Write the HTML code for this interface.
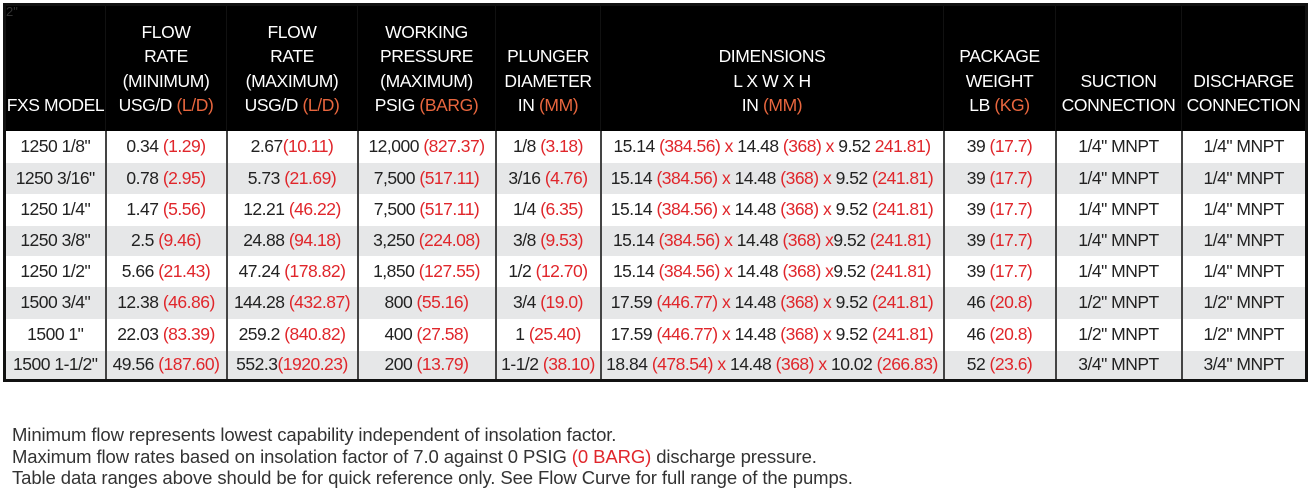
<!DOCTYPE html>
<html><head><meta charset="utf-8"><style>
body{margin:0;width:1310px;height:496px;background:#fff;font-family:"Liberation Sans",sans-serif;overflow:hidden;position:relative}
table{position:absolute;left:3px;top:3px;border-collapse:collapse;table-layout:fixed;border:3px solid #111;}
th{background:#000;color:#fff;font-weight:normal;font-size:17.5px;line-height:24.5px;vertical-align:bottom;padding:0 0 13px 0;letter-spacing:-0.4px;border-left:1px solid #111}
td{font-size:17.5px;letter-spacing:-0.5px;color:#222;text-align:center;padding:0;border-left:2px solid #444;white-space:nowrap}
tr.g td{background:#e6e7e8}
.r{color:#e0262b}.o{color:#e8663e}
.tag{position:absolute;left:6px;top:4px;color:#333;font-size:13px;z-index:2}
.foot{position:absolute;left:12px;top:424px;font-size:18.5px;line-height:21.5px;color:#333;letter-spacing:-0.1px}
</style></head><body>
<div class="tag">2"</div>
<table>
<colgroup><col style="width:101px"><col style="width:121px"><col style="width:131px"><col style="width:138px"><col style="width:105px"><col style="width:343px"><col style="width:112px"><col style="width:126px"><col style="width:125px"></colgroup>
<tr style="height:126px"><th>FXS MODEL</th><th>FLOW<br>RATE<br>(MINIMUM)<br>USG/D <span class="o">(L/D)</span></th><th>FLOW<br>RATE<br>(MAXIMUM)<br>USG/D <span class="o">(L/D)</span></th><th>WORKING<br>PRESSURE<br>(MAXIMUM)<br>PSIG <span class="o">(BARG)</span></th><th>PLUNGER<br>DIAMETER<br>IN <span class="o">(MM)</span></th><th>DIMENSIONS<br>L X W X H<br>IN <span class="o">(MM)</span></th><th>PACKAGE<br>WEIGHT<br>LB <span class="o">(KG)</span></th><th>SUCTION<br>CONNECTION</th><th>DISCHARGE<br>CONNECTION</th></tr>
<tr style="height:32px"><td>1250 1/8"</td><td>0.34 <span class="r">(1.29)</span></td><td>2.67<span class="r">(10.11)</span></td><td>12,000 <span class="r">(827.37)</span></td><td>1/8 <span class="r">(3.18)</span></td><td>15.14 <span class="r">(384.56) x</span> 14.48 <span class="r">(368) x</span> 9.52 <span class="r">241.81)</span></td><td>39 <span class="r">(17.7)</span></td><td>1/4" MNPT</td><td>1/4" MNPT</td></tr>
<tr class="g" style="height:31px"><td>1250 3/16"</td><td>0.78 <span class="r">(2.95)</span></td><td>5.73 <span class="r">(21.69)</span></td><td>7,500 <span class="r">(517.11)</span></td><td>3/16 <span class="r">(4.76)</span></td><td>15.14 <span class="r">(384.56) x</span> 14.48 <span class="r">(368) x</span> 9.52 <span class="r">(241.81)</span></td><td>39 <span class="r">(17.7)</span></td><td>1/4" MNPT</td><td>1/4" MNPT</td></tr>
<tr style="height:32px"><td>1250 1/4"</td><td>1.47 <span class="r">(5.56)</span></td><td>12.21 <span class="r">(46.22)</span></td><td>7,500 <span class="r">(517.11)</span></td><td>1/4 <span class="r">(6.35)</span></td><td>15.14 <span class="r">(384.56) x</span> 14.48 <span class="r">(368) x</span> 9.52 <span class="r">(241.81)</span></td><td>39 <span class="r">(17.7)</span></td><td>1/4" MNPT</td><td>1/4" MNPT</td></tr>
<tr class="g" style="height:30px"><td>1250 3/8"</td><td>2.5 <span class="r">(9.46)</span></td><td>24.88 <span class="r">(94.18)</span></td><td>3,250 <span class="r">(224.08)</span></td><td>3/8 <span class="r">(9.53)</span></td><td>15.14 <span class="r">(384.56) x</span> 14.48 <span class="r">(368) x</span>9.52 <span class="r">(241.81)</span></td><td>39 <span class="r">(17.7)</span></td><td>1/4" MNPT</td><td>1/4" MNPT</td></tr>
<tr style="height:31px"><td>1250 1/2"</td><td>5.66 <span class="r">(21.43)</span></td><td>47.24 <span class="r">(178.82)</span></td><td>1,850 <span class="r">(127.55)</span></td><td>1/2 <span class="r">(12.70)</span></td><td>15.14 <span class="r">(384.56) x</span> 14.48 <span class="r">(368) x</span>9.52 <span class="r">(241.81)</span></td><td>39 <span class="r">(17.7)</span></td><td>1/4" MNPT</td><td>1/4" MNPT</td></tr>
<tr class="g" style="height:32px"><td>1500 3/4"</td><td>12.38 <span class="r">(46.86)</span></td><td>144.28 <span class="r">(432.87)</span></td><td>800 <span class="r">(55.16)</span></td><td>3/4 <span class="r">(19.0)</span></td><td>17.59 <span class="r">(446.77) x</span> 14.48 <span class="r">(368) x</span> 9.52 <span class="r">(241.81)</span></td><td>46 <span class="r">(20.8)</span></td><td>1/2" MNPT</td><td>1/2" MNPT</td></tr>
<tr style="height:32px"><td>1500 1"</td><td>22.03 <span class="r">(83.39)</span></td><td>259.2 <span class="r">(840.82)</span></td><td>400 <span class="r">(27.58)</span></td><td>1 <span class="r">(25.40)</span></td><td>17.59 <span class="r">(446.77) x</span> 14.48 <span class="r">(368) x</span> 9.52 <span class="r">(241.81)</span></td><td>46 <span class="r">(20.8)</span></td><td>1/2" MNPT</td><td>1/2" MNPT</td></tr>
<tr class="g" style="height:30px"><td>1500 1-1/2"</td><td>49.56 <span class="r">(187.60)</span></td><td>552.3<span class="r">(1920.23)</span></td><td>200 <span class="r">(13.79)</span></td><td>1-1/2 <span class="r">(38.10)</span></td><td>18.84 <span class="r">(478.54) x</span> 14.48 <span class="r">(368) x</span> 10.02 <span class="r">(266.83)</span></td><td>52 <span class="r">(23.6)</span></td><td>3/4" MNPT</td><td>3/4" MNPT</td></tr>
</table>
<div class="foot">Minimum flow represents lowest capability independent of insolation factor.<br>Maximum flow rates based on insolation factor of 7.0 against 0 PSIG <span class="r">(0 BARG)</span> discharge pressure.<br>Table data ranges above should be for quick reference only. See Flow Curve for full range of the pumps.</div>
</body></html>
